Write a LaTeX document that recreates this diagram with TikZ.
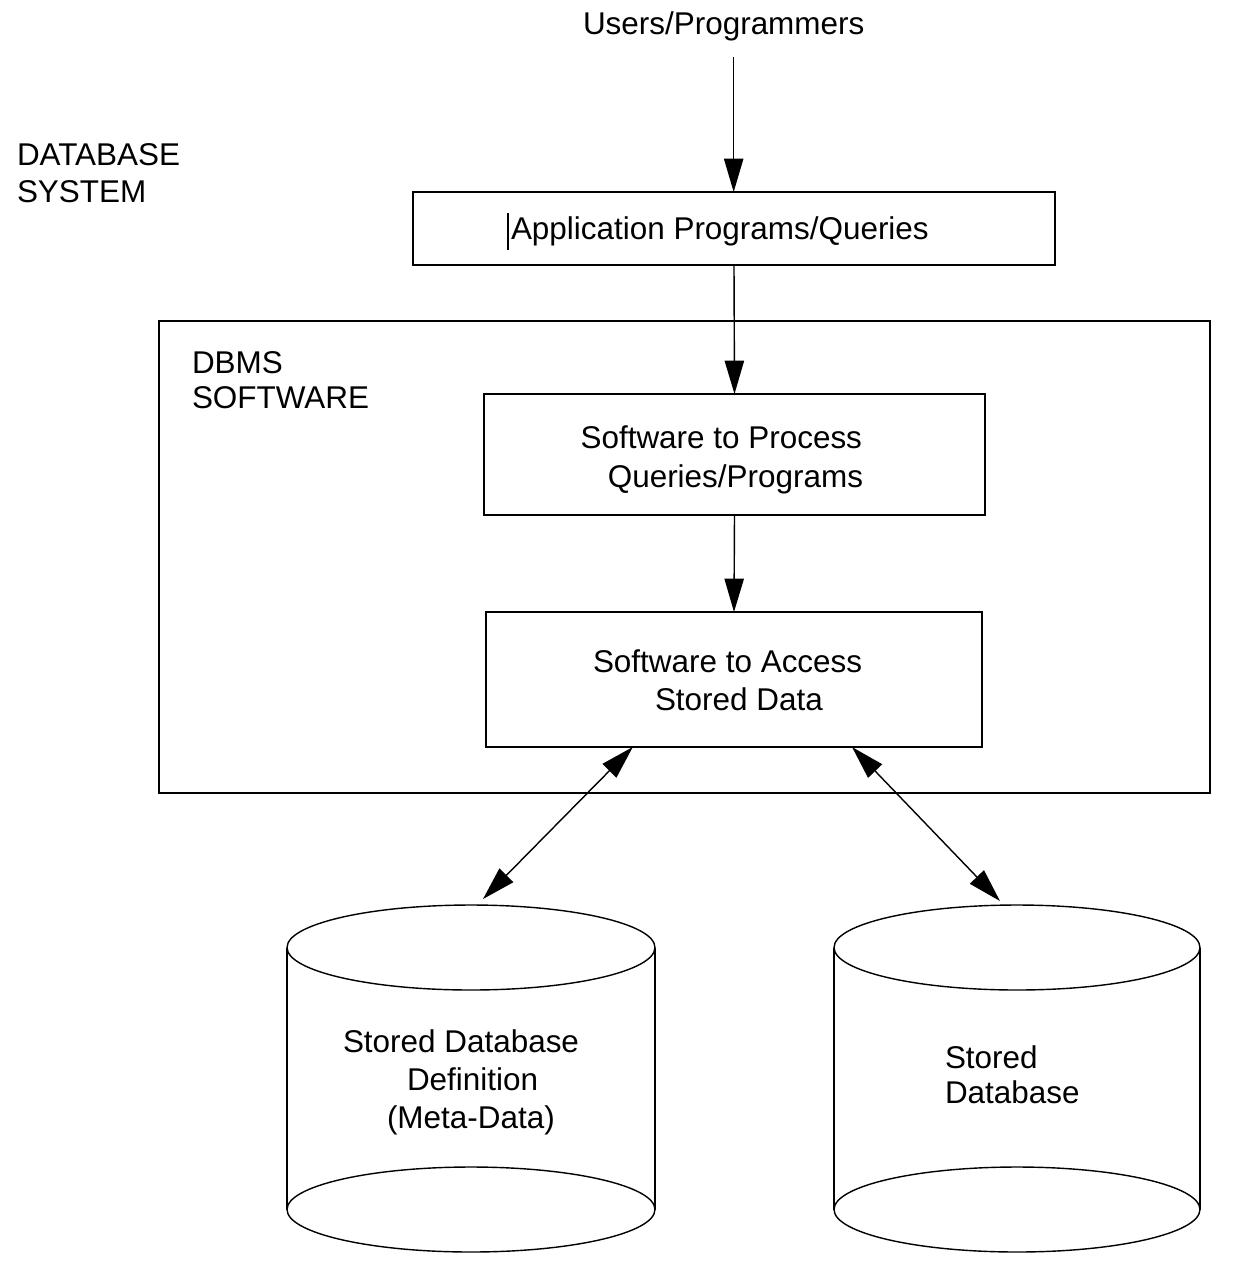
\documentclass[tikz,border=0pt]{standalone}
\usepackage{fontspec}
\setmainfont{Liberation Sans}
\usetikzlibrary{arrows.meta,calc}

\begin{document}
\begin{tikzpicture}[x=0.02cm,y=-0.02cm,
  txt/.style={font=\fontsize{17.9}{21}\selectfont, inner sep=0pt, outer sep=0pt},
  boxnode/.style={draw, line width=0.8pt, inner sep=0pt, outer sep=0pt},
  body/.style={inner sep=0pt, outer sep=0pt},
  outline/.style={line width=0.8pt},
  flow/.style={line width=0.8pt, -{Triangle[length=19pt,width=11pt]}},
  twoway/.style={line width=0.8pt, {Triangle[length=19pt,width=11pt]}-{Triangle[length=19pt,width=11pt]}}]

\useasboundingbox (0,0) rectangle (1252,1276);

% ---- headings ----
\node[txt, anchor=base west] (users) at (583,34) {Users/Programmers};
\node[txt, anchor=base west] (dbsys1) at (17,165) {DATABASE};
\node[txt, anchor=base west] (dbsys2) at (17,202) {SYSTEM};

% ---- boxes ----
\node[boxnode, minimum width=12.84cm, minimum height=1.46cm] (app) at (734,228.5) {};
\node[boxnode, minimum width=21.02cm, minimum height=9.44cm] (dbms) at (684.5,557) {};
\node[boxnode, minimum width=10.02cm, minimum height=2.42cm] (proc) at (734.5,454.5) {};
\node[boxnode, minimum width=9.92cm, minimum height=2.70cm] (acc) at (734,679.5) {};

% ---- box texts ----
\node[txt, anchor=base west] (apptxt) at (511,239) {Application Programs/Queries};
\draw[line width=0.6pt] (508,213) -- (508,250);
\node[txt, anchor=base west] (dbmstxt1) at (192,373) {DBMS};
\node[txt, anchor=base west] (dbmstxt2) at (192,408) {SOFTWARE};
\node[txt, anchor=base east] (proctxt1) at (862,448) {Software to Process};
\node[txt, anchor=base east] (proctxt2) at (863,487) {Queries/Programs};
\node[txt, anchor=base west] (acctxt1) at (593,672) {Software to Access};
\node[txt, anchor=base west] (acctxt2) at (655,710) {Stored Data};

% ---- cylinders ----
\node[body, minimum width=7.36cm, minimum height=6.94cm] (meta) at (471,1078.5) {};
\node[body, minimum width=7.32cm, minimum height=6.94cm] (store) at (1017,1078.5) {};

\draw[outline] (471,947.5) ellipse [x radius=3.68cm, y radius=0.85cm];
\draw[outline] (471,1209.5) ellipse [x radius=3.68cm, y radius=0.85cm];
\draw[outline] (287,947.5) -- (287,1209.5);
\draw[outline] (655,947.5) -- (655,1209.5);

\draw[outline] (1017,947.5) ellipse [x radius=3.66cm, y radius=0.85cm];
\draw[outline] (1017,1209.5) ellipse [x radius=3.66cm, y radius=0.85cm];
\draw[outline] (834,947.5) -- (834,1209.5);
\draw[outline] (1200,947.5) -- (1200,1209.5);

\node[txt, anchor=base west] (metatxt1) at (343,1052) {Stored Database};
\node[txt, anchor=base west] (metatxt2) at (407,1090) {Definition};
\node[txt, anchor=base west] (metatxt3) at (387,1128) {(Meta-Data)};
\node[txt, anchor=base west] (storetxt1) at (945,1068) {Stored};
\node[txt, anchor=base west] (storetxt2) at (945,1103) {Database};

% ---- connectors ----
\coordinate (ustart) at ($(users.base)+(10,23)$);
\draw[flow] (ustart) -- (ustart |- app.north);
\draw[flow] (app.south) -- (proc.north);
\draw[flow] (proc.south) -- (acc.north);

\coordinate (accL) at ($(acc.south west)!0.296!(acc.south east)$);
\coordinate (accR) at ($(acc.south west)!0.738!(acc.south east)$);
\coordinate (metaTop) at ($(meta.north)+(12,-6)$);
\coordinate (storeTop) at ($(store.north)+(-17,-4)$);
\draw[twoway] (accL) -- (metaTop);
\draw[twoway] (accR) -- (storeTop);

\end{tikzpicture}
\end{document}
